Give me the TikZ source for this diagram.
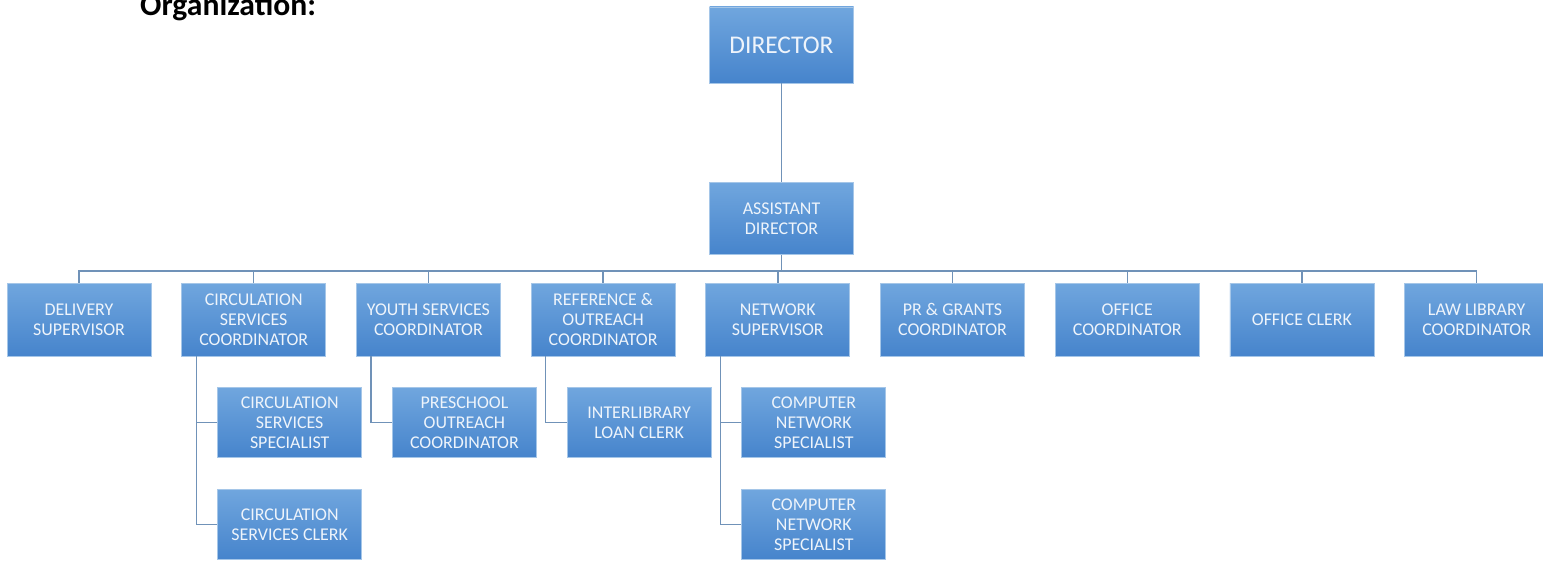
\documentclass[tikz,border=0pt]{standalone}
\usepackage{fontspec}
\setmainfont{Carlito}
\usepackage{xcolor}
\definecolor{boxtop}{RGB}{112,166,222}
\definecolor{boxbot}{RGB}{70,132,204}
\definecolor{boxline}{RGB}{165,198,232}
\definecolor{boxtext}{RGB}{238,244,251}
\definecolor{linkblue}{RGB}{112,146,184}
\usepackage{tikz}
\usetikzlibrary{positioning}

\begin{document}
\begin{tikzpicture}[
	role/.style={rectangle, draw=boxline, line width=0.4pt, top color=boxtop, bottom color=boxbot,
	             minimum width=2.88cm, minimum height=1.46cm, align=center, inner sep=2pt,
	             font=\fontsize{10.2}{11.3}\selectfont, text=boxtext},
	sub/.style={role, minimum height=1.40cm},
	head/.style={role, minimum height=1.52cm, font=\fontsize{14.5}{16}\selectfont},
	conn/.style={draw=linkblue, line width=0.8pt},
	ttl/.style={anchor=base west, font=\fontsize{18}{20}\selectfont\bfseries}
	]
	\useasboundingbox (0,0) rectangle (30.86,-11.2);
	\node[ttl] (title) at (2.68,-0.30) {Organization:};

	% top of the chart
	\node[head] (dir) at (15.63,-0.90) {DIRECTOR};
	\node[role, minimum height=1.44cm, below=1.98cm of dir] (asst) {ASSISTANT\\DIRECTOR};

	% first row
	\node[role] (deliv) at (1.58,-6.39) {DELIVERY\\SUPERVISOR};
	\node[role, right=0.6cm of deliv] (circ) {CIRCULATION\\SERVICES\\COORDINATOR};
	\node[role, right=0.6cm of circ] (youth) {YOUTH SERVICES\\COORDINATOR};
	\node[role, right=0.6cm of youth] (refout) {REFERENCE \&\\OUTREACH\\COORDINATOR};
	\node[role, right=0.6cm of refout] (netsup) {NETWORK\\SUPERVISOR};
	\node[role, right=0.6cm of netsup] (prgrant) {PR \& GRANTS\\COORDINATOR};
	\node[role, right=0.6cm of prgrant] (offcoord) {OFFICE\\COORDINATOR};
	\node[role, right=0.6cm of offcoord] (offclerk) {OFFICE CLERK};
	\node[role, right=0.6cm of offclerk] (lawlib) {LAW LIBRARY\\COORDINATOR};

	% second level
	\node[sub, below right=0.62cm and 0.72cm of circ.south west] (cspec) {CIRCULATION\\SERVICES\\SPECIALIST};
	\node[sub, below=0.62cm of cspec] (cclerk) {CIRCULATION\\SERVICES CLERK};
	\node[sub, below right=0.62cm and 0.72cm of youth.south west] (presch) {PRESCHOOL\\OUTREACH\\COORDINATOR};
	\node[sub, below right=0.62cm and 0.72cm of refout.south west] (illoan) {INTERLIBRARY\\LOAN CLERK};
	\node[sub, below right=0.62cm and 0.72cm of netsup.south west] (cnspec) {COMPUTER\\NETWORK\\SPECIALIST};
	\node[sub, below=0.62cm of cnspec] (cnspecb) {COMPUTER\\NETWORK\\SPECIALIST};

	% connectors
	\draw[conn] (dir) -- (asst);
	\coordinate[below=0.32cm of asst.south] (bus);
	\draw[conn] (asst) -- (bus);
	\draw[conn] (bus) -| (deliv);
	\draw[conn] (bus) -| (circ);
	\draw[conn] (bus) -| (youth);
	\draw[conn] (bus) -| (refout);
	\draw[conn] (bus) -| (netsup);
	\draw[conn] (bus) -| (prgrant);
	\draw[conn] (bus) -| (offcoord);
	\draw[conn] (bus) -| (offclerk);
	\draw[conn] (bus) -| (lawlib);

	\draw[conn] ([xshift=0.3cm]circ.south west) |- (cspec);
	\draw[conn] ([xshift=0.3cm]circ.south west) |- (cclerk);
	\draw[conn] ([xshift=0.3cm]youth.south west) |- (presch);
	\draw[conn] ([xshift=0.3cm]refout.south west) |- (illoan);
	\draw[conn] ([xshift=0.3cm]netsup.south west) |- (cnspec);
	\draw[conn] ([xshift=0.3cm]netsup.south west) |- (cnspecb);
\end{tikzpicture}
\end{document}
